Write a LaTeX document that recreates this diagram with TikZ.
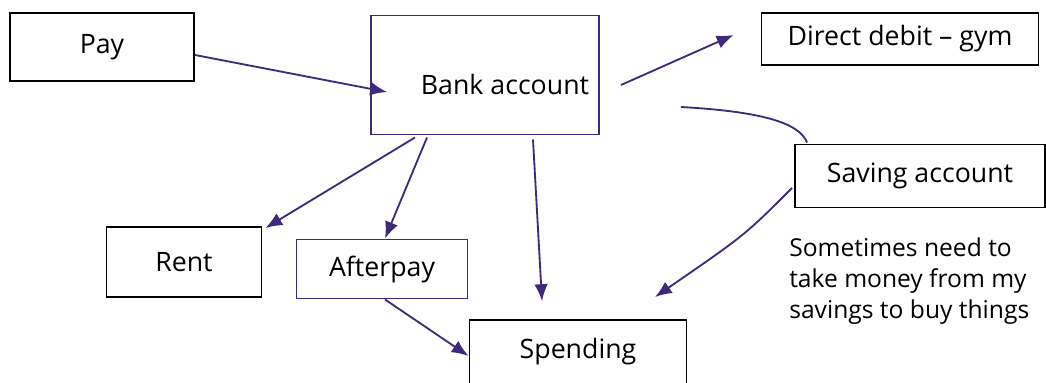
\documentclass[tikz,border=0pt]{standalone}
\usepackage{fontspec}
\setmainfont{Open Sans}
\usepackage{tikz}
\usetikzlibrary{positioning}
\usetikzlibrary{arrows.meta}
\usetikzlibrary{calc}
\usepackage{xcolor}
\definecolor{plum}{RGB}{64,40,122}

\begin{document}
\begin{tikzpicture}[
  x=0.025cm, y=-0.025cm,
  font=\fontsize{19}{23}\selectfont,
  size/.style 2 args={minimum width=#1*0.025cm, minimum height=#2*0.025cm},
  box/.style={draw, line width=1.4pt, align=center, inner sep=0pt},
  pbox/.style={box, draw=plum},
  arrow/.style={-{Latex[length=4.2mm, width=3.4mm]}, line width=1.3pt, plum},
  link/.style={line width=1.3pt, plum}
]
\useasboundingbox (0,0) rectangle (1046,382);

\node[box, size={184}{68}] (pay) at (102,47) {Pay};
\node[pbox, size={228}{119},
  label={[xshift=0.5cm, yshift=-0.23cm]center:Bank account}] (bank) at (485,75) {};
\node[box, size={277}{52}] (debit) at (900,39) {Direct debit -- gym};
\node[box, size={250}{63}] (saving) at (920,176) {Saving account};
\node[box, size={155}{70}] (rent) at (184,262) {Rent};
\node[pbox, size={171}{59}] (afterpay) at (382,269) {Afterpay};
\node[box, size={217}{64}] (spend) at (578,352) {Spending};

\node[anchor=north west, inner sep=0pt, align=left, font=\fontsize{17.5}{21.8}\selectfont]
  (note) at (789,238) {Sometimes need to\\take money from my\\savings to buy things};

\draw[arrow] ($(pay.east)+(0,8)$) -- ($(bank.west)+(17,17)$);
\draw[arrow] ($(bank.east)+(21,10)$) -- ($(debit.west)+(-27,-4)$);
\draw[link] ($(bank.east)+(81,32)$) .. controls (770,112) and (800,125) .. ($(saving.north west)+(13,-1)$);
\draw[arrow] ($(saving.west)+(-2,12)$) .. controls (745,235) .. ($(spend.north)+(77,-22)$);
\draw[arrow] ($(bank.south)+(-70,2)$) -- ($(rent.north east)+(3,2)$);
\draw[arrow] ($(bank.south)+(-58,2)$) -- ($(afterpay.north)+(3,0)$);
\draw[arrow] ($(bank.south)+(48,4)$) -- ($(spend.north)+(-36,-18)$);
\draw[arrow] ($(afterpay.south)+(3,0)$) -- ($(spend.west)+(0,4)$);

\end{tikzpicture}
\end{document}
